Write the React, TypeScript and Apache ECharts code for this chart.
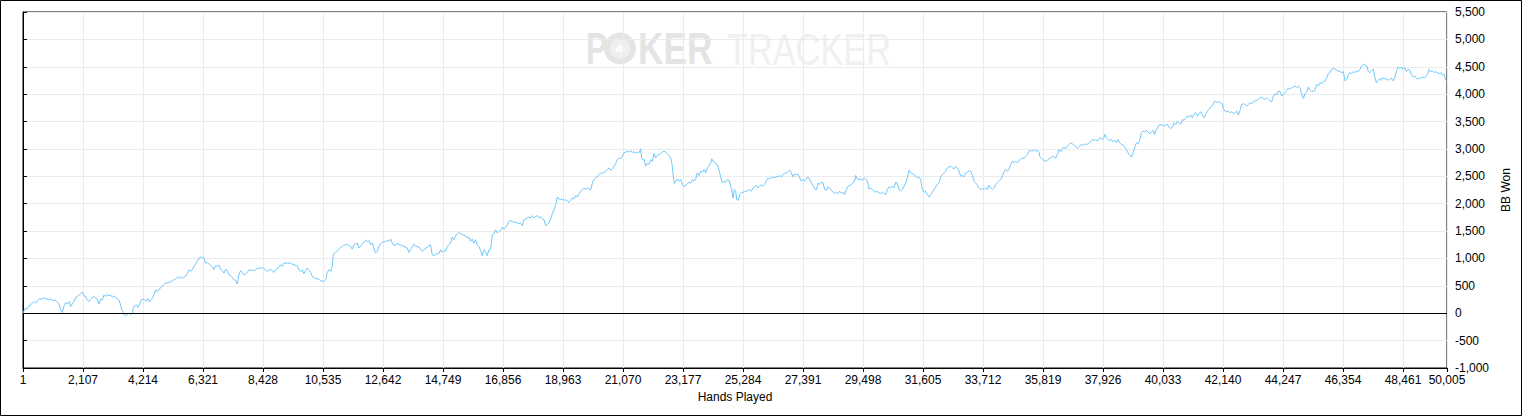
import React, { useEffect, useRef } from "react";
import * as echarts from "echarts";

// Cumulative BB won by hand number (three stretches of the session)
const sessionStart: [number, number][] = [
  [1,0],[71,85],[141,73],[211,134],[305,170],[387,213],[445,182],[504,231],[585,268],[656,256],[738,280],[820,262],[890,243],[972,262],[1053,231],[1124,243],[1182,213],[1241,182],[1287,134],[1346,30],[1381,12],[1440,134],[1498,195],[1557,170],[1615,213],[1674,121],[1732,170],[1791,213],[1849,292],[1908,304],[1966,335],[2025,353],[2083,390],[2142,317],[2200,304],[2259,243],[2317,213],[2376,256],[2434,286],[2493,304],[2551,280],[2610,256],[2668,170],[2727,256],[2785,243],[2844,335],[2902,304],[2961,347],[3019,317],[3078,335],[3136,292],[3195,317],[3253,292],[3312,268],[3370,243],[3429,152],[3464,60],[3510,30],[3557,-31],[3604,-50],[3663,-25],[3721,0],[3780,-19],[3838,0],[3873,91],[3920,134],[3978,152],[4037,109],[4095,170],[4154,243],[4212,256],[4271,243],[4329,219],[4388,268],[4446,207],[4505,243],[4540,274],[4598,335],[4657,427],[4715,396],[4774,439],[4832,457],[4891,500],[5008,549],[5125,561],[5242,591],[5300,610],[5359,622],[5417,658],[5476,640],[5534,671],[5593,628],[5651,658],[5710,671],[5768,720],[5827,793],[5885,768],[5944,793],[6002,854],[6061,897],[6119,945],[6178,1006],[6236,1025],[6295,1019],[6353,1006],[6412,915],[6470,927],[6529,903],[6587,872],[6646,854],[6704,793],[6763,866],[6821,854],[6880,884],[6938,805],[6997,781],[7055,732],[7114,793],[7172,781],[7231,701],[7289,683],[7348,658],[7406,610],[7465,597],[7523,536],[7582,701],[7640,781],[7699,744],[7757,701],[7816,720],[7874,744],[7933,793],[8050,781],[8167,793],[8226,817],[8343,823],[8401,835],[8518,793],[8577,762],[8694,805],[8811,744],[8869,793],[8986,842],[9045,884],[9103,854],[9162,915],[9279,915],[9396,915],[9513,884],[9630,866],[9689,793],[9747,762],[9806,793],[9864,720],[9923,781],[9981,823],[10040,781],[10098,744],[10157,671],[10274,634],[10391,622],[10450,591],[10567,579],[10626,610],[10684,744],[10743,793],[10801,762],[10860,854],[10895,1067],[10954,1110],[11036,1129],[11094,1171],[11153,1202],[11211,1220],[11270,1251],[11328,1238],[11387,1269],[11445,1232],[11504,1220],[11562,1171],[11621,1251],[11679,1269],[11738,1281],[11796,1190],[11855,1220],[11913,1269],[11972,1299],[12030,1330],[12089,1312],[12147,1324],[12206,1251],[12264,1281],[12323,1190],[12381,1098],[12440,1129],[12498,1220],[12557,1269],[12615,1293],[12732,1312],[12791,1330],[12849,1312],[12908,1354],[12966,1281],[13025,1232],[13142,1269],[13259,1245],[13376,1220],[13493,1190],[13551,1110],[13610,1159],[13668,1220],[13727,1263],[13785,1220],[13902,1208],[14019,1129],[14078,1159],[14195,1208],[14312,1251],[14371,1067],[14429,1049],[14546,1098],[14605,1086],[14663,1159],[14722,1110],[14780,1147],[14839,1129],[14897,1220],[15014,1281],[15073,1391],[15131,1342],[15190,1415],[15307,1476],[15424,1434],[15541,1415],[15600,1373],[15658,1391],[15717,1312],[15775,1354],[15834,1281],[15892,1342],[15951,1251],[16009,1220],[16068,1147],[16126,1049],[16185,1159],[16243,1129],[16302,1049]
];

const sessionMiddle: [number, number][] = [
  [16364,1159],[16423,1171],[16481,1433],[16540,1452],[16598,1525],[16657,1464],[16715,1494],[16774,1513],[16832,1574],[16891,1537],[16949,1574],[17008,1616],[17066,1677],[17125,1696],[17183,1659],[17242,1677],[17300,1647],[17359,1659],[17418,1635],[17476,1647],[17535,1598],[17593,1708],[17652,1720],[17710,1739],[17769,1757],[17827,1739],[17886,1781],[17944,1739],[18003,1769],[18061,1781],[18120,1739],[18178,1769],[18237,1720],[18295,1708],[18354,1598],[18412,1616],[18471,1647],[18529,1720],[18588,1818],[18647,1891],[18705,1983],[18764,2123],[18822,2086],[18881,2074],[18939,2086],[18998,2062],[19056,2074],[19115,2044],[19173,2025],[19232,2062],[19290,2105],[19349,2086],[19408,2148],[19466,2123],[19525,2184],[19583,2227],[19642,2257],[19700,2288],[19759,2257],[19817,2288],[19876,2270],[19934,2245],[19993,2379],[20051,2440],[20110,2471],[20168,2489],[20227,2532],[20285,2563],[20344,2550],[20402,2575],[20461,2593],[20520,2624],[20578,2654],[20637,2611],[20695,2636],[20754,2685],[20812,2734],[20871,2807],[20929,2837],[20988,2819],[21046,2868],[21105,2929],[21163,2941],[21222,2959],[21280,2941],[21339,2972],[21397,2929],[21456,2953],[21515,2917],[21573,2941],[21632,2929],[21690,3002],[21725,2837],[21772,2795],[21819,2807],[21866,2685],[21924,2734],[21983,2715],[22041,2807],[22100,2776],[22159,2917],[22217,2837],[22276,2880],[22334,2898],[22393,2917],[22451,2941],[22510,2959],[22568,2941],[22627,2917],[22685,2880],[22744,2837],[22802,2685],[22837,2502],[22873,2367],[22920,2410],[22978,2453],[23037,2410],[23095,2440],[23154,2349],[23212,2318],[23271,2331],[23329,2367],[23388,2392],[23446,2379],[23505,2440],[23563,2410],[23622,2453],[23680,2563],[23739,2514],[23797,2593],[23856,2575],[23914,2624],[23973,2563],[24031,2654],[24090,2685],[24149,2746],[24184,2819],[24231,2776],[24289,2758],[24348,2734],[24406,2685],[24465,2563],[24500,2489],[24558,2379],[24617,2410],[24675,2392],[24734,2440],[24793,2428],[24851,2318],[24886,2257],[24933,2105],[24980,2257],[25027,2227],[25062,2074],[25120,2062],[25167,2166],[25226,2196],[25284,2209],[25342,2221],[25401,2227],[25460,2245],[25518,2257],[25577,2227],[25635,2288],[25694,2318],[25752,2331],[25811,2288],[25869,2318],[25928,2349],[25986,2318],[26045,2349],[26103,2410],[26162,2471],[26220,2453],[26279,2471],[26337,2489],[26396,2471],[26454,2502],[26513,2489],[26571,2514],[26630,2489],[26688,2532],[26747,2550],[26806,2563],[26864,2587],[26923,2611],[26981,2563],[27040,2489],[27098,2544],[27157,2532],[27215,2538],[27274,2471],[27332,2410],[27391,2440],[27449,2410],[27508,2453],[27566,2489],[27625,2440],[27683,2379],[27742,2331],[27801,2270],[27859,2257],[27918,2379],[27976,2349],[28035,2392],[28093,2379],[28152,2257],[28210,2245],[28269,2306],[28327,2288],[28386,2245],[28444,2209],[28503,2184],[28561,2209],[28620,2184],[28678,2227],[28737,2196],[28795,2209],[28854,2166],[28912,2257],[28971,2318],[29029,2331],[29088,2349],[29147,2392],[29205,2410],[29240,2514],[29299,2453],[29357,2440],[29416,2453],[29474,2428],[29533,2471],[29591,2453],[29650,2410],[29708,2270],[29767,2288],[29825,2257],[29884,2227],[29942,2209],[30001,2227],[30059,2196],[30118,2184],[30176,2209],[30235,2184],[30293,2166],[30352,2257],[30410,2306],[30469,2288],[30528,2318],[30586,2288],[30645,2392],[30703,2379],[30762,2257],[30820,2227],[30879,2257],[30937,2318],[30996,2379],[31054,2471],[31113,2611],[31171,2563],[31230,2550],[31288,2532],[31347,2502],[31405,2471],[31464,2489],[31523,2440],[31581,2257],[31640,2209],[31698,2227],[31757,2166],[31815,2123],[31874,2166],[31932,2209],[31991,2257],[32049,2306],[32108,2349],[32166,2379],[32225,2489],[32283,2532],[32342,2563],[32401,2593],[32459,2654],[32518,2672],[32576,2685],[32635,2654],[32693,2636],[32752,2685],[32810,2654],[32869,2593],[32927,2502],[32986,2514],[33044,2489],[33103,2563],[33161,2575]
];

const sessionEnd: [number, number][] = [
  [33221,2605],[33280,2593],[33338,2519],[33397,2409],[33455,2379],[33514,2336],[33572,2287],[33631,2257],[33689,2275],[33748,2257],[33806,2287],[33865,2257],[33923,2336],[33982,2287],[34040,2257],[34099,2287],[34157,2348],[34216,2379],[34275,2422],[34333,2440],[34392,2501],[34450,2580],[34509,2623],[34567,2593],[34626,2623],[34684,2715],[34743,2776],[34801,2745],[34860,2776],[34918,2745],[34977,2788],[35035,2806],[35094,2837],[35152,2825],[35211,2867],[35270,2898],[35328,2959],[35387,2971],[35445,2959],[35504,2989],[35562,2959],[35621,2971],[35679,2947],[35703,2867],[35738,2837],[35796,2806],[35855,2788],[35913,2776],[35972,2788],[36030,2825],[36089,2837],[36147,2867],[36206,2849],[36265,2837],[36323,2898],[36382,2989],[36440,2947],[36499,3008],[36557,3032],[36616,3008],[36674,3050],[36733,3081],[36791,3111],[36850,3093],[36908,3069],[36967,3050],[37025,3008],[37084,3044],[37142,3069],[37201,3081],[37260,3069],[37318,3093],[37377,3081],[37435,3111],[37494,3130],[37552,3172],[37611,3154],[37669,3172],[37728,3142],[37786,3191],[37845,3203],[37903,3172],[37962,3215],[37997,3264],[38044,3203],[38102,3172],[38161,3154],[38219,3172],[38278,3130],[38336,3154],[38395,3111],[38454,3172],[38512,3111],[38571,3081],[38629,3069],[38688,3032],[38746,2989],[38805,2928],[38863,2886],[38922,2849],[38981,2928],[39039,3020],[39098,3111],[39156,3093],[39215,3154],[39273,3295],[39332,3325],[39390,3313],[39449,3337],[39507,3313],[39566,3276],[39624,3313],[39683,3337],[39741,3264],[39776,3337],[39835,3386],[39893,3435],[39952,3447],[40010,3435],[40069,3417],[40127,3435],[40186,3447],[40245,3398],[40303,3374],[40362,3398],[40420,3478],[40479,3447],[40537,3508],[40596,3478],[40654,3447],[40713,3539],[40771,3520],[40830,3557],[40888,3600],[40947,3581],[41005,3618],[41064,3569],[41122,3643],[41181,3661],[41240,3600],[41298,3643],[41357,3679],[41415,3618],[41474,3569],[41532,3630],[41591,3691],[41649,3722],[41708,3765],[41766,3783],[41825,3862],[41883,3874],[41942,3844],[42000,3862],[42059,3844],[42117,3826],[42153,3722],[42211,3691],[42270,3679],[42328,3691],[42387,3661],[42445,3679],[42504,3643],[42562,3661],[42621,3691],[42679,3618],[42738,3704],[42796,3813],[42855,3826],[42913,3813],[42972,3783],[43030,3813],[43089,3844],[43148,3826],[43206,3862],[43265,3874],[43323,3887],[43382,3905],[43440,3935],[43499,3948],[43557,3923],[43616,3905],[43674,3935],[43733,3905],[43791,3874],[43850,3862],[43908,3966],[43967,4009],[44025,3984],[44084,4058],[44143,4045],[44201,3966],[44260,3997],[44318,4027],[44377,4070],[44435,4106],[44494,4088],[44552,4119],[44611,4131],[44669,4149],[44728,4119],[44786,4149],[44845,4119],[44903,3997],[44962,3923],[45020,4009],[45079,4045],[45138,4131],[45196,4070],[45255,4045],[45313,4058],[45372,4070],[45430,4180],[45489,4149],[45547,4210],[45606,4192],[45664,4229],[45723,4241],[45781,4302],[45840,4375],[45898,4393],[45957,4454],[46015,4473],[46074,4454],[46132,4436],[46191,4424],[46249,4412],[46308,4393],[46366,4412],[46425,4241],[46483,4271],[46542,4363],[46600,4393],[46659,4375],[46717,4412],[46776,4393],[46834,4424],[46893,4412],[46951,4454],[47010,4515],[47069,4546],[47127,4534],[47186,4515],[47244,4412],[47303,4393],[47361,4436],[47420,4454],[47478,4302],[47525,4210],[47584,4253],[47642,4290],[47701,4253],[47759,4302],[47818,4271],[47876,4290],[47935,4253],[47994,4271],[48052,4290],[48111,4241],[48169,4302],[48228,4412],[48286,4497],[48345,4473],[48403,4497],[48462,4454],[48520,4485],[48579,4412],[48637,4454],[48696,4436],[48754,4363],[48813,4314],[48871,4332],[48930,4290],[48989,4271],[49047,4302],[49106,4290],[49164,4314],[49223,4302],[49281,4332],[49340,4393],[49375,4454],[49434,4412],[49492,4424],[49551,4393],[49609,4412],[49668,4393],[49726,4375],[49785,4393],[49843,4351],[49902,4363],[49961,4253],[50005,4240]
];

const handsMin = 0;
const handsMax = 50005;
const handsStep = 2107;
const bbMin = -1000;
const bbMax = 5500;
const bbStep = 500;

const FONT = "'Liberation Sans', Arial, sans-serif";

export default function App() {
  const ref = useRef<HTMLDivElement>(null);

  useEffect(() => {
    document.body.style.margin = "0";
    const chart = echarts.init(ref.current!, null, { renderer: "svg" });
    const fmt = (v: number) => v.toLocaleString("en-US");
    chart.setOption({
      animation: false,
      backgroundColor: "#ffffff",
      textStyle: { fontFamily: FONT },
      grid: {
        left: 23,
        top: 12,
        right: 75,
        bottom: 48,
        show: true,
        borderColor: "#000",
        borderWidth: 1,
        backgroundColor: "transparent",
      },
      graphic: [
        {
          type: "rect",
          silent: true,
          shape: { x: 0.5, y: 0.5, width: 1521, height: 415 },
          style: { fill: "none", stroke: "#000", lineWidth: 1 },
          z: 100,
        },
        {
          type: "group",
          silent: true,
          z: -1,
          children: [
            {
              type: "text",
              x: 586,
              y: 49,
              scaleX: 0.72,
              style: { text: "P", fontSize: 44, fontWeight: "bold", fontFamily: FONT, fill: "#e4e4e4", verticalAlign: "middle", align: "left" },
            },
            {
              type: "circle",
              shape: { cx: 620, cy: 48.5, r: 16 },
              style: { fill: "#e4e4e4" },
            },
            {
              type: "circle",
              shape: { cx: 620, cy: 48.5, r: 10.5 },
              style: { fill: "#eeeeee" },
            },
            {
              type: "text",
              x: 620,
              y: 49,
              style: { text: "♠", fontSize: 15, fontFamily: "DejaVu Sans", fill: "#fbfbfb", verticalAlign: "middle", align: "center" },
            },
            {
              type: "text",
              x: 638,
              y: 49,
              scaleX: 0.8,
              style: { text: "KER", fontSize: 44, fontWeight: "bold", fontFamily: FONT, fill: "#e4e4e4", verticalAlign: "middle", align: "left" },
            },
            {
              type: "text",
              x: 727,
              y: 49,
              scaleX: 0.78,
              style: { text: "TRACKER", fontSize: 44, fontFamily: FONT, fill: "#f0f0f0", verticalAlign: "middle", align: "left" },
            },
          ],
        },
      ],
      xAxis: {
        type: "value",
        min: handsMin,
        max: handsMax,
        interval: handsStep,
        name: "Hands Played",
        nameLocation: "middle",
        nameGap: 23,
        nameTextStyle: { color: "#000", fontSize: 12, fontFamily: FONT },
        axisLine: { show: true, onZero: false, lineStyle: { color: "#000", width: 1 } },
        axisTick: { show: true, length: 4, lineStyle: { color: "#000" } },
        axisLabel: {
          color: "#000",
          fontSize: 12,
          fontFamily: FONT,
          margin: 6,
          showMinLabel: true,
          showMaxLabel: true,
          formatter: (v: number) => (v === handsMin ? "1" : fmt(v)),
        },
        splitLine: { show: true, lineStyle: { color: "#ebebeb", width: 1 } },
      },
      yAxis: {
        type: "value",
        position: "right",
        min: bbMin,
        max: bbMax,
        interval: bbStep,
        name: "BB Won",
        nameLocation: "middle",
        nameRotate: 90,
        nameGap: 48,
        nameTextStyle: { color: "#000", fontSize: 12, fontFamily: FONT },
        axisLine: { show: true, lineStyle: { color: "#000", width: 1 } },
        axisTick: { show: true, length: 4, lineStyle: { color: "#000" } },
        axisLabel: {
          color: "#000",
          fontSize: 12,
          fontFamily: FONT,
          margin: 8,
          formatter: (v: number) => fmt(v),
        },
        splitLine: { show: true, lineStyle: { color: "#ebebeb", width: 1 } },
      },
      series: [
        {
          type: "line",
          data: [...sessionStart, ...sessionMiddle, ...sessionEnd],
          showSymbol: false,
          symbol: "none",
          lineStyle: { color: "#6fc7fb", width: 1 },
          itemStyle: { color: "#6fc7fb" },
          markLine: {
            silent: true,
            symbol: ["none", "none"],
            label: { show: false },
            lineStyle: { color: "#000", width: 1, type: "solid" },
            data: [{ yAxis: 0 }],
          },
        },
      ],
    });
    return () => chart.dispose();
  }, []);

  return <div ref={ref} style={{ width: 1522, height: 416, background: "#fff" }} />;
}
